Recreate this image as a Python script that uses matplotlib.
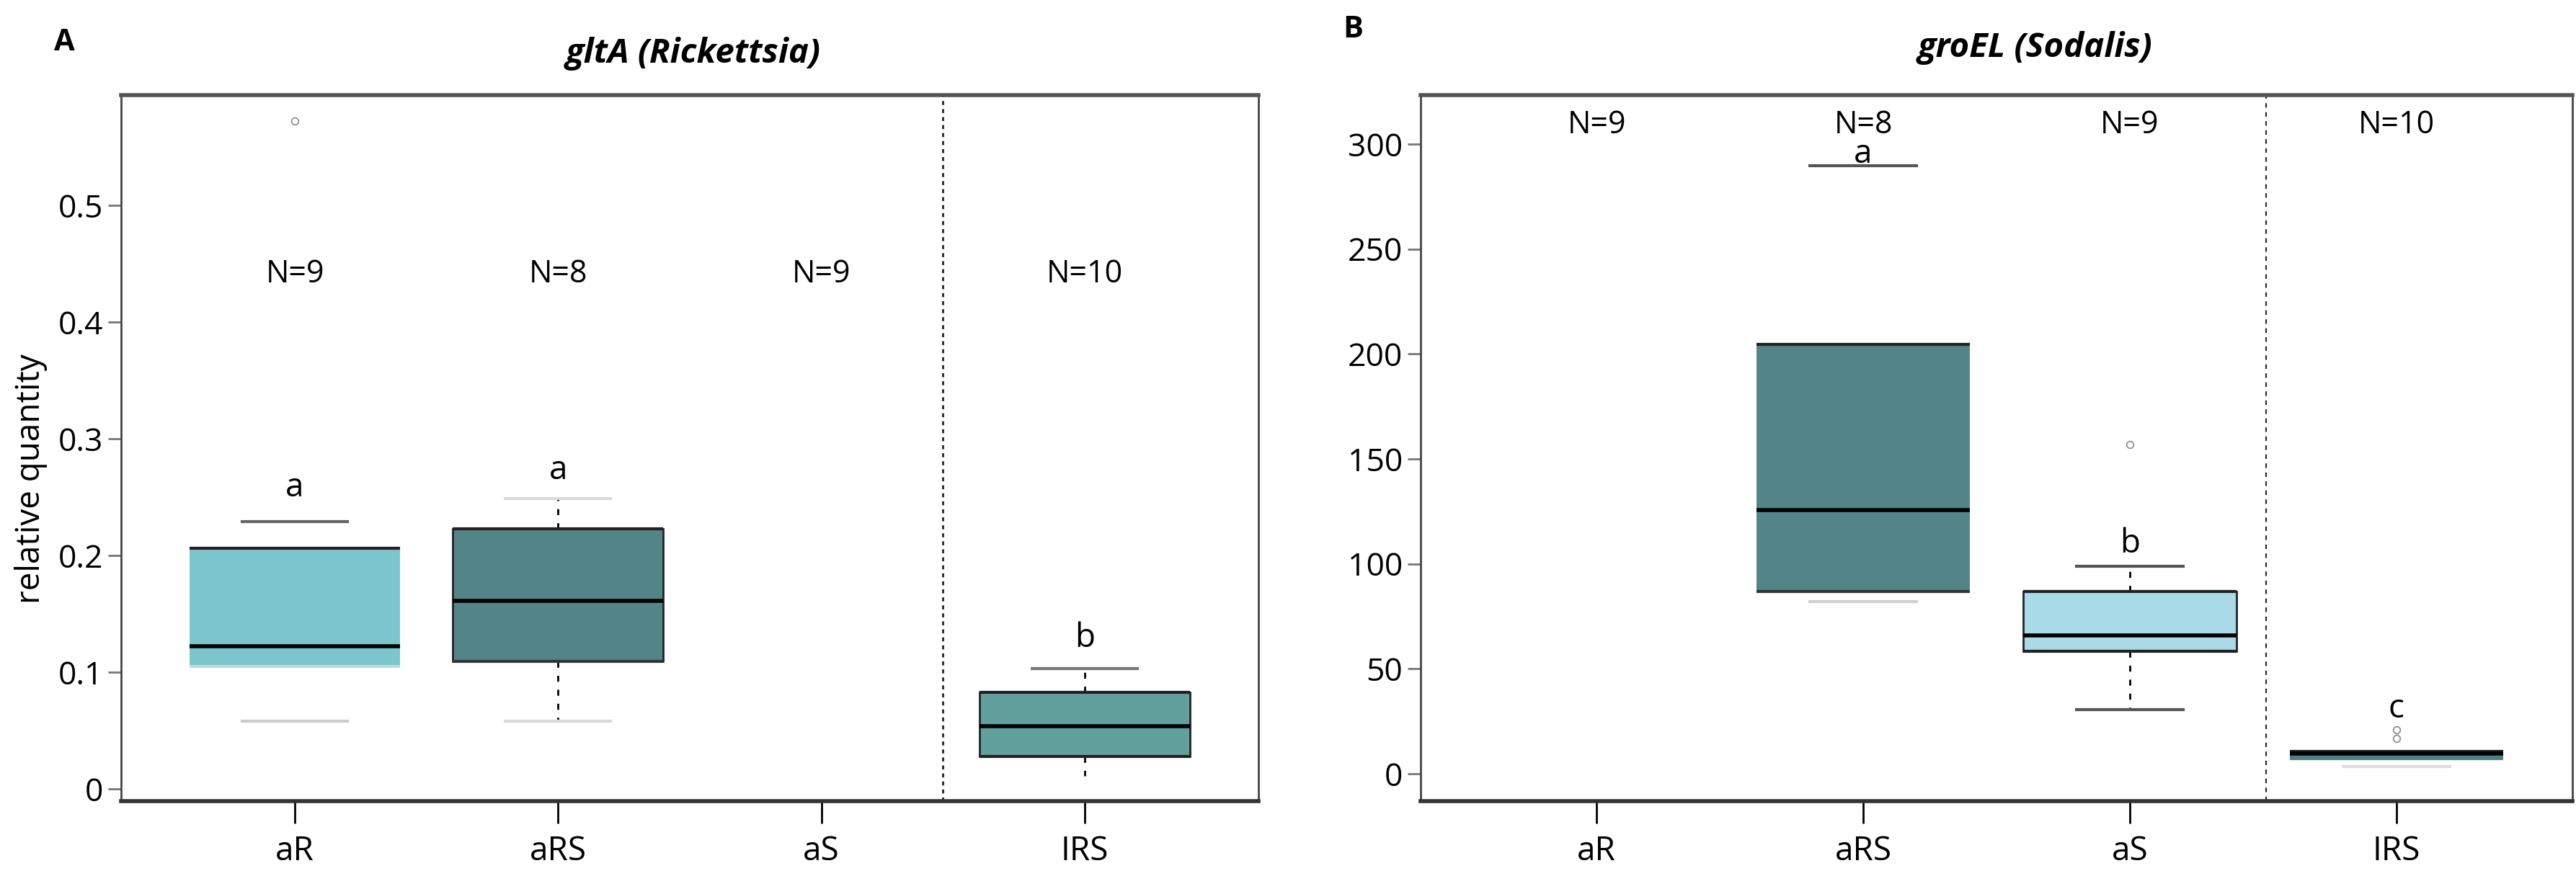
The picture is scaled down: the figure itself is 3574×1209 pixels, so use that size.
import matplotlib
matplotlib.use("Agg")
import matplotlib.pyplot as plt

plt.rcParams['font.family'] = ['Open Sans', 'DejaVu Sans']

groups = ['aR', 'aRS', 'aS', 'IRS']

# panel A: gltA (Rickettsia)
a_pos = [1, 2, 4]
a_whislo = [0.058, 0.058, 0.011]
a_q1 = [0.105, 0.109, 0.028]
a_med = [0.122, 0.161, 0.054]
a_q3 = [0.206, 0.223, 0.083]
a_whishi = [0.229, 0.249, 0.103]
a_fliers = [[0.572], [], []]
a_n = ['N=9', 'N=8', 'N=9', 'N=10']
a_letters = ['a', 'a', 'b']
a_letter_y = [0.258, 0.273, 0.129]

# panel B: groEL (Sodalis)
b_pos = [2, 3, 4]
b_whislo = [82, 30.5, 3.6]
b_q1 = [87, 58.5, 7.3]
b_med = [125.5, 66, 9.5]
b_q3 = [204.5, 87, 10.8]
b_whishi = [289.5, 99, 10.8]
b_fliers = [[], [157], [17, 21]]
b_n = ['N=9', 'N=8', 'N=9', 'N=10']
b_letters = ['a', 'b', 'c']
b_letter_y = [295, 109.5, 31]

# styling per box
a_fill = ['#7BC5CD', '#538487', '#62A09E']
a_side = ['none', '#222222', '#222222']
a_bot = ['#b8dde0', '#333333', '#222222']
a_capcol = [('#cccccc', '#666666'), ('#d9d9d9', '#d9d9d9'), ('none', '#777777')]
a_whisk = [False, True, True]

b_fill = ['#538487', '#A8DAE8', '#4E7F85']
b_side = ['none', '#222222', 'none']
b_bot = ['#333333', '#222222', '#4E7F85']
b_capcol = [('#d0d0d0', '#555555'), ('#555555', '#555555'), ('#dddddd', 'none')]
b_whisk = [False, True, False]


def panel(ax, pos, lo, q1, med, q3, hi, fl, fills, sides, bots, capcols, whisk):
    stats = []
    for i in range(len(pos)):
        stats.append(dict(whislo=lo[i], q1=q1[i], med=med[i], q3=q3[i],
                          whishi=hi[i], fliers=fl[i]))
    bp = ax.bxp(stats, positions=pos, widths=0.8, capwidths=0.4,
                patch_artist=True, showfliers=True, manage_ticks=False)
    for i, box in enumerate(bp['boxes']):
        box.set_facecolor(fills[i])
        box.set_edgecolor(sides[i])
        box.set_linewidth(2)
        box.set_zorder(2)
        ax.hlines(q3[i], pos[i] - 0.4, pos[i] + 0.4, color='#222222', lw=3, zorder=3)
        ax.hlines(q1[i], pos[i] - 0.4, pos[i] + 0.4, color=bots[i], lw=3, zorder=3)
    for m in bp['medians']:
        m.set_color('black')
        m.set_linewidth(4)
        m.set_zorder(4)
    for i in range(len(pos)):
        lo_cap, hi_cap = bp['caps'][2 * i], bp['caps'][2 * i + 1]
        lo_cap.set_color(capcols[i][0])
        hi_cap.set_color(capcols[i][1])
        for c in (lo_cap, hi_cap):
            c.set_linewidth(3)
        for w in bp['whiskers'][2 * i:2 * i + 2]:
            w.set_linestyle((0, (3, 4)))
            w.set_linewidth(2)
            w.set_color('black' if whisk[i] else 'none')
    for f in bp['fliers']:
        f.set_marker('o')
        f.set_markersize(7)
        f.set_markerfacecolor('none')
        f.set_markeredgecolor('#888888')
        f.set_markeredgewidth(1.2)
    return bp


fig = plt.figure(figsize=(35.74, 12.09), dpi=100)
axA = fig.add_axes([168 / 3574, 97 / 1209, 1578 / 3574, 980 / 1209])
axB = fig.add_axes([1971 / 3574, 97 / 1209, 1598 / 3574, 980 / 1209])

panel(axA, a_pos, a_whislo, a_q1, a_med, a_q3, a_whishi, a_fliers,
      a_fill, a_side, a_bot, a_capcol, a_whisk)
panel(axB, b_pos, b_whislo, b_q1, b_med, b_q3, b_whishi, b_fliers,
      b_fill, b_side, b_bot, b_capcol, b_whisk)

axA.set_ylim(-0.0105, 0.5944)
axA.set_yticks([0, 0.1, 0.2, 0.3, 0.4, 0.5])
axA.set_yticklabels(['0', '0.1', '0.2', '0.3', '0.4', '0.5'])
axB.set_ylim(-13, 323.3)
axB.set_yticks([0, 50, 100, 150, 200, 250, 300])

for i, t in enumerate(a_n):
    axA.text(i + 1, 0.441, t, ha='center', va='center', fontsize=31)
for i, t in enumerate(b_n):
    axB.text(i + 1, 309, t, ha='center', va='center', fontsize=31)
for p, t, y in zip(a_pos, a_letters, a_letter_y):
    axA.text(p, y, t, ha='center', va='center', fontsize=33)
for p, t, y in zip(b_pos, b_letters, b_letter_y):
    axB.text(p, y, t, ha='center', va='center', fontsize=33)

axA.axvline(3.46, color='#222222', lw=2, ls=(0, (2, 2)), zorder=1)
axB.axvline(3.51, color='#222222', lw=1.5, ls=(0, (3, 3)), zorder=1)

a_tickcol = ['#dddddd', '#333333', 'none', '#333333']
b_tickcol = ['#333333', '#888888', '#333333', '#dddddd']
for ax, tcols in ((axA, a_tickcol), (axB, b_tickcol)):
    ax.set_xlim(0.34, 4.66)
    ax.set_xticks([1, 2, 3, 4])
    ax.set_xticklabels(groups)
    ax.tick_params(axis='x', length=22, width=2, labelsize=33, pad=12)
    ax.tick_params(axis='y', length=13, width=2, color='#777777', labelsize=32, pad=5)
    for tk, c in zip(ax.xaxis.get_major_ticks(), tcols):
        tk.tick1line.set_color(c)
    ax.spines['top'].set_linewidth(4)
    ax.spines['top'].set_color('#555555')
    ax.spines['bottom'].set_linewidth(4)
    ax.spines['bottom'].set_color('#333333')
    for s in ('left', 'right'):
        ax.spines[s].set_linewidth(2)
        ax.spines[s].set_color('#444444')

fig.text(0.012, 0.45, 'relative quantity', rotation=90, ha='center', va='center', fontsize=33)
fig.text(962 / 3574, 1 - 74 / 1209, 'gltA (Rickettsia)', ha='center', va='center',
         fontsize=34, fontweight='bold', fontstyle='italic')
fig.text(2824 / 3574, 1 - 67 / 1209, 'groEL (Sodalis)', ha='center', va='center',
         fontsize=34, fontweight='bold', fontstyle='italic')
fig.text(89 / 3574, 1 - 60 / 1209, 'A', ha='center', va='center', fontsize=30, fontweight='bold')
fig.text(1877 / 3574, 1 - 42 / 1209, 'B', ha='center', va='center', fontsize=30, fontweight='bold')

fig.savefig('out.png', dpi=100)
